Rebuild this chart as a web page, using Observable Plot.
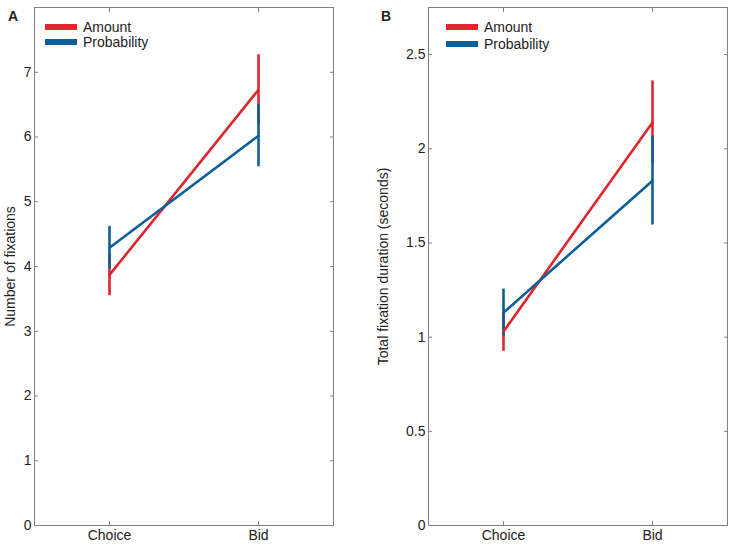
<!DOCTYPE html>
<html>
<head>
<meta charset="utf-8">
<script src="https://cdn.jsdelivr.net/npm/d3@7"></script>
<script src="https://cdn.jsdelivr.net/npm/@observablehq/plot@0.6"></script>
<style>
  html, body { margin: 0; padding: 0; background: #fff; }
  #wrap { position: relative; width: 734px; height: 547px; font-family: "Liberation Sans", Arial, sans-serif; color: #222; }
  .panel { position: absolute; top: 0; }
  .plab { position: absolute; font-weight: bold; font-size: 14px; }
  .leg { position: absolute; font-size: 14px; display: flex; align-items: center; height: 16px; }
  .leg span.sw { display: inline-block; width: 32px; height: 6px; margin-right: 6px; }
</style>
</head>
<body>
<div id="wrap"></div>
<script>
const conditions = ["Choice", "Bid"];
const seriesNames = ["Amount", "Probability"];
const seriesColors = ["#e0262d", "#0d5f97"];

// Panel A: number of fixations
const fixAmount = [3.87, 6.73];
const fixAmountErr = [0.32, 0.54];
const fixProb = [4.29, 6.02];
const fixProbErr = [0.33, 0.48];
const fixTicks = [0, 1, 2, 3, 4, 5, 6, 7];

// Panel B: total fixation duration (seconds)
const durAmount = [1.03, 2.14];
const durAmountErr = [0.105, 0.22];
const durProb = [1.13, 1.83];
const durProbErr = [0.125, 0.235];
const durTicks = [0, 0.5, 1, 1.5, 2, 2.5];

function rows(a, aErr, p, pErr) {
  const out = [];
  conditions.forEach((c, i) => out.push({condition: c, series: seriesNames[0], value: a[i], err: aErr[i]}));
  conditions.forEach((c, i) => out.push({condition: c, series: seriesNames[1], value: p[i], err: pErr[i]}));
  return out;
}

function panel(data, yDomain, ticks, label, marginLeft, marginRight, labelOffset) {
  const axisStyle = {stroke: "#808080", fill: "#222", fontSize: 14};
  return Plot.plot({
    width: 367,
    height: 547,
    marginLeft,
    marginRight,
    marginTop: 7,
    marginBottom: 22,
    style: {fontFamily: "'Liberation Sans', Arial, sans-serif", fontSize: "14px", background: "white", color: "#222"},
    x: {type: "point", domain: conditions, padding: 0.5},
    y: {domain: yDomain},
    color: {domain: seriesNames, range: seriesColors},
    marks: [
      Plot.frame({stroke: "#808080"}),
      Plot.axisY({anchor: "left", ticks, tickSize: -4, tickPadding: 7, tickFormat: d => String(d),
        label, labelAnchor: "center", labelOffset, labelArrow: "none", ...axisStyle}),
      Plot.axisY({anchor: "right", ticks, tickSize: -4, tickFormat: () => "", label: null, ...axisStyle}),
      Plot.axisX({anchor: "bottom", tickSize: -4, tickPadding: 9, label: null, ...axisStyle}),
      Plot.axisX({anchor: "top", tickSize: -4, tickFormat: () => "", label: null, ...axisStyle}),
      Plot.ruleX(data, {x: "condition", y1: d => d.value - d.err, y2: d => d.value + d.err, stroke: "series", strokeWidth: 2.6}),
      Plot.line(data, {x: "condition", y: "value", z: "series", stroke: "series", strokeWidth: 2.6})
    ]
  });
}

const wrap = document.getElementById("wrap");

const a = panel(rows(fixAmount, fixAmountErr, fixProb, fixProbErr), [0, 8], fixTicks, "Number of fixations", 34, 34, 29);
a.classList.add("panel"); a.style.left = "0px";
wrap.appendChild(a);

const b = panel(rows(durAmount, durAmountErr, durProb, durProbErr), [0, 2.75], durTicks, "Total fixation duration (seconds)", 61, 7, 50);
b.classList.add("panel"); b.style.left = "367px";
wrap.appendChild(b);

function addText(cls, text, left, top) {
  const d = document.createElement("div");
  d.className = cls; d.textContent = text;
  d.style.left = left + "px"; d.style.top = top + "px";
  wrap.appendChild(d);
  return d;
}
addText("plab", "A", 8, 8);
addText("plab", "B", 381, 8);

function legend(left, tops) {
  seriesNames.forEach((s, i) => {
    const d = document.createElement("div");
    d.className = "leg";
    d.style.left = left + "px"; d.style.top = tops[i] + "px";
    const sw = document.createElement("span");
    sw.className = "sw"; sw.style.background = seriesColors[i];
    d.appendChild(sw);
    d.appendChild(document.createTextNode(s));
    wrap.appendChild(d);
  });
}
legend(45, [19, 34]);
legend(446, [19, 36]);
</script>
</body>
</html>
